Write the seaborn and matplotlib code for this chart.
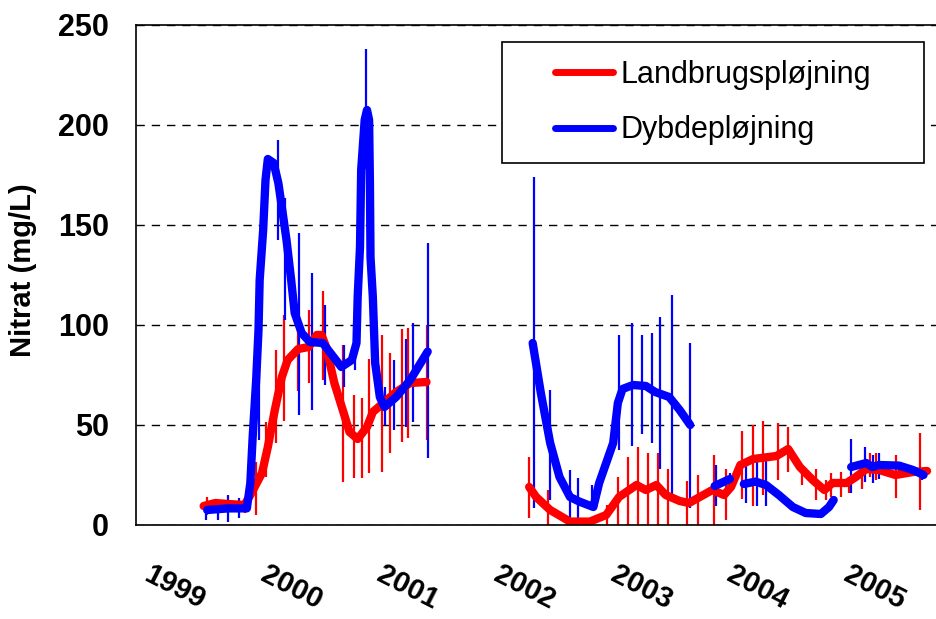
import numpy as np
import pandas as pd
import matplotlib
matplotlib.use("Agg")
import matplotlib.pyplot as plt
import matplotlib.transforms as mtransforms
from matplotlib.lines import Line2D
from matplotlib.patches import Rectangle
import seaborn as sns

nan = np.nan

# Landbrugspløjning (red) - decimal years, nitrate mg/L, nan = gap in line
land_year = [1999.58, 1999.68, 1999.79, 1999.93, 1999.99, 2000.08, 2000.13, 2000.19, 2000.25,
             2000.30, 2000.39, 2000.48, 2000.55, 2000.59, 2000.63, 2000.70, 2000.78, 2000.83,
             2000.90, 2000.98, 2001.03, 2001.12, 2001.23, 2001.35, 2001.49,
             2001.9,
             2002.37, 2002.43, 2002.55, 2002.72, 2002.89, 2003.03, 2003.14, 2003.29, 2003.37,
             2003.46, 2003.54, 2003.66, 2003.74, 2003.94, 2004.04, 2004.10, 2004.18, 2004.29,
             2004.49, 2004.59, 2004.69, 2004.80, 2004.90, 2004.97, 2005.09, 2005.17, 2005.26,
             2005.37, 2005.51, 2005.66, 2005.78]
land_value = [9.5, 11, 10.5, 10, 16, 26, 39, 57.5, 74,
              82.5, 88, 89, 95, 95, 89, 71, 56, 46.5,
              43, 49, 56.5, 61, 66.5, 71, 71.5,
              nan,
              19, 14, 7.5, 1.7, 1.7, 5, 14, 20, 17.5,
              20, 15, 12, 11, 17.5, 15, 19, 30, 33,
              34.5, 38, 29, 22.5, 17.5, 21, 21, 24, 28,
              27.5, 25, 26.5, 27]

# Dybdepløjning (blue)
dyb_year = [1999.61, 1999.79, 1999.95, 1999.98, 2000.00, 2000.03, 2000.05, 2000.06, 2000.09,
            2000.11, 2000.13, 2000.18, 2000.22, 2000.25, 2000.29, 2000.33, 2000.36, 2000.42,
            2000.49, 2000.60, 2000.68, 2000.76, 2000.85, 2000.89, 2000.90, 2000.92, 2000.93,
            2000.96, 2000.98, 2000.998, 2001.005, 2001.01, 2001.03, 2001.05, 2001.09, 2001.13,
            2001.23, 2001.35, 2001.50,
            2001.9,
            2002.40, 2002.47, 2002.55, 2002.63, 2002.72, 2002.80, 2002.92, 2002.97, 2003.09,
            2003.13, 2003.17, 2003.26, 2003.37, 2003.45, 2003.57, 2003.66, 2003.75,
            2003.85,
            2003.96, 2004.09,
            2004.15,
            2004.21, 2004.31, 2004.40, 2004.51, 2004.63, 2004.74, 2004.87, 2004.94, 2004.98,
            2005.05,
            2005.13, 2005.26, 2005.31, 2005.37, 2005.54, 2005.66, 2005.75]
dyb_value = [7.5, 8.3, 8.3, 21, 44, 72.5, 97.5, 122.5, 147.5,
             172.5, 183, 181, 171, 159, 142.5, 122.5, 106, 96,
             91.5, 91, 85, 79, 82.5, 91, 114, 139, 177.5,
             202.5, 207.5, 202.5, 171, 134, 114, 81, 64, 59,
             64, 72.5, 86.7,
             nan,
             91, 66, 41, 24, 14, 11.7, 9, 21, 41,
             61, 68, 70, 69.5, 66.5, 64, 57.5, 50,
             nan,
             19.5, 23,
             nan,
             20.5, 21.7, 20, 15, 9, 6, 5.5, 9, 12.5,
             nan,
             29, 31, 29, 30, 29.7, 27.5, 25]

# error bars (low / high)
land_err_year = [1999.61, 1999.93, 2000.03, 2000.11, 2000.20, 2000.27, 2000.39, 2000.48, 2000.60,
                 2000.77, 2000.87, 2000.94, 2001.00, 2001.11, 2001.18, 2001.28, 2001.33, 2001.49,
                 2002.37, 2002.53, 2003.04, 2003.13, 2003.22, 2003.30, 2003.39, 2003.47, 2003.56,
                 2003.72, 2003.82, 2003.95, 2004.06, 2004.19, 2004.29, 2004.37, 2004.50, 2004.59,
                 2004.71, 2004.83, 2004.91, 2004.96, 2005.04, 2005.11, 2005.22, 2005.29, 2005.34,
                 2005.51, 2005.72]
land_err_low = [5, 6, 5, 24, 41, 52, 67, 71, 72.5,
                21.7, 23.5, 23.5, 26, 26.7, 36, 41.7, 43.5, 42.5,
                3.3, -1, -1, -1, -1, -1, -1, -1, -1,
                -1, -1, -1.5, 2.5, 13, 9.5, 15, 22.5, 26.5,
                20, 12.5, 12.5, 14, 14, 16, 18, 24, 22.5,
                13.5, 7.5]
land_err_high = [14, 13.5, 31.5, 51.7, 87.5, 105, 108, 107.5, 117,
                 90, 65, 63.5, 83, 95, 86, 98, 98.5, 100,
                 34, 17.5, 10, 24, 34, 39, 36, 36, 28,
                 22, 25, 35, 28, 47, 50, 52, 51, 49,
                 30, 28, 22.5, 26, 26.5, 24, 31, 36, 36,
                 35, 46]

dyb_err_year = [1999.60, 1999.70, 1999.79, 1999.88, 2000.05, 2000.22, 2000.28, 2000.40, 2000.51,
                2000.62, 2000.78, 2000.88, 2000.97, 2001.13, 2001.21, 2001.31, 2001.37, 2001.50,
                2002.41, 2002.55, 2002.72, 2002.79, 2002.91, 2003.14, 2003.25, 2003.34, 2003.42,
                2003.49, 2003.59, 2003.75, 2003.97, 2004.09, 2004.23, 2004.32, 2004.40, 2005.13,
                2005.25, 2005.32, 2005.37, 2005.54, 2005.74]
dyb_err_low = [2.5, 2.5, 1.7, 3.5, 42.5, 142.5, 102.5, 55, 57.5,
               70, 69, 77.5, 178, 50, 47.5, 49, 51.7, 33.3,
               8.3, 12.5, -0.5, -0.5, 7.5, 37.5, 39.5, 45.5, 41,
               28, 13, 8.3, 9.5, 19, 11, 9.5, 9.5, 16,
               21.5, 21, 23, 25, 22.5]
dyb_err_high = [9, 11.7, 15, 13.5, 112, 192.5, 163.5, 146, 126,
                110, 90, 97.5, 238, 69, 82.5, 93, 101, 141,
                174, 67.5, 27.5, 23.5, 20, 95, 101, 95, 96,
                104, 115, 91, 30, 26, 31, 34.5, 32.5, 43,
                39, 35, 36, 31, 27.5]

year_ticks = [1999, 2000, 2001, 2002, 2003, 2004, 2005]

sns.set_style("white")
plt.rcParams["font.family"] = ["Liberation Sans", "DejaVu Sans"]
plt.rcParams["text.color"] = "black"
plt.rcParams["axes.labelcolor"] = "black"
plt.rcParams["xtick.color"] = "black"
plt.rcParams["ytick.color"] = "black"


def frame(name, years, values):
    d = pd.DataFrame({"year": years, "value": values})
    d["segment"] = d["value"].isna().cumsum()
    d["serie"] = name
    return d.dropna()


df = pd.concat([frame("Landbrugspløjning", land_year, land_value),
                frame("Dybdepløjning", dyb_year, dyb_value)], ignore_index=True)
colors = {"Landbrugspløjning": "#ff0000", "Dybdepløjning": "#0000ff"}

fig = plt.figure(figsize=(9.36, 6.19), dpi=100)
ax = fig.add_axes([136 / 936, 94 / 619, 800 / 936, 500 / 619])

ax.vlines(land_err_year, land_err_low, land_err_high, color="#ff0000", lw=1.6, zorder=1.5)
ax.vlines(dyb_err_year, dyb_err_low, dyb_err_high, color="#0000ff", lw=1.6, zorder=1.6)

sns.lineplot(data=df, x="year", y="value", hue="serie", units="segment", estimator=None,
             sort=False, palette=colors, hue_order=list(colors), linewidth=6,
             solid_capstyle="round", solid_joinstyle="round", legend=False, ax=ax, zorder=2)

ax.set_xlim(1999, 2005.857)
ax.set_ylim(0, 250)
ax.set_xticks(year_ticks)
ax.set_xticklabels([str(y) for y in year_ticks], rotation=-27, ha="left", va="top",
                   rotation_mode="anchor", fontsize=21, fontweight="bold", color="black")
ax.set_yticks(np.arange(0, 251, 50))
ax.set_yticks(np.arange(0, 251, 25), minor=True)
ax.tick_params(axis="y", which="both", direction="out", length=6.5, width=1, color="black")
ax.tick_params(axis="y", which="major", labelsize=22, pad=13, labelcolor="black")
ax.tick_params(axis="x", which="major", direction="out", length=6.5, width=1, color="black", pad=19)
for lbl in ax.get_yticklabels():
    lbl.set_fontweight("bold")
shift = mtransforms.ScaledTranslation(16 / 100, 0, fig.dpi_scale_trans)
for lbl in ax.get_xticklabels():
    lbl.set_transform(lbl.get_transform() + shift)

ax.yaxis.grid(True, which="major", color="black", linestyle=(0, (6, 5)), linewidth=1)
ax.xaxis.grid(False)
ax.set_axisbelow(True)

for side in ["left", "bottom", "top"]:
    ax.spines[side].set_visible(True)
    ax.spines[side].set_color("black")
    ax.spines[side].set_linewidth(1.2)
ax.spines["right"].set_visible(False)

ax.set_xlabel("")
ax.set_ylabel("Nitrat (mg/L)", fontsize=21, fontweight="bold", color="black")
ax.yaxis.set_label_coords(-0.124, 0.51)

box = Rectangle((0.4575, 0.724), 0.5275, 0.2426, transform=ax.transAxes,
                facecolor="white", edgecolor="black", lw=1.2, zorder=4)
ax.add_patch(box)
handles = [Line2D([0], [0], color=c, lw=5, solid_capstyle="round") for c in colors.values()]
leg = ax.legend(handles, list(colors), loc="center", bbox_to_anchor=(0.721, 0.845),
                frameon=False, fontsize=22, handlelength=1.9, handletextpad=0.25,
                labelspacing=0.85)
leg.set_zorder(5)
for t in leg.get_texts():
    t.set_color("black")

fig.savefig("out.png", dpi=100)
